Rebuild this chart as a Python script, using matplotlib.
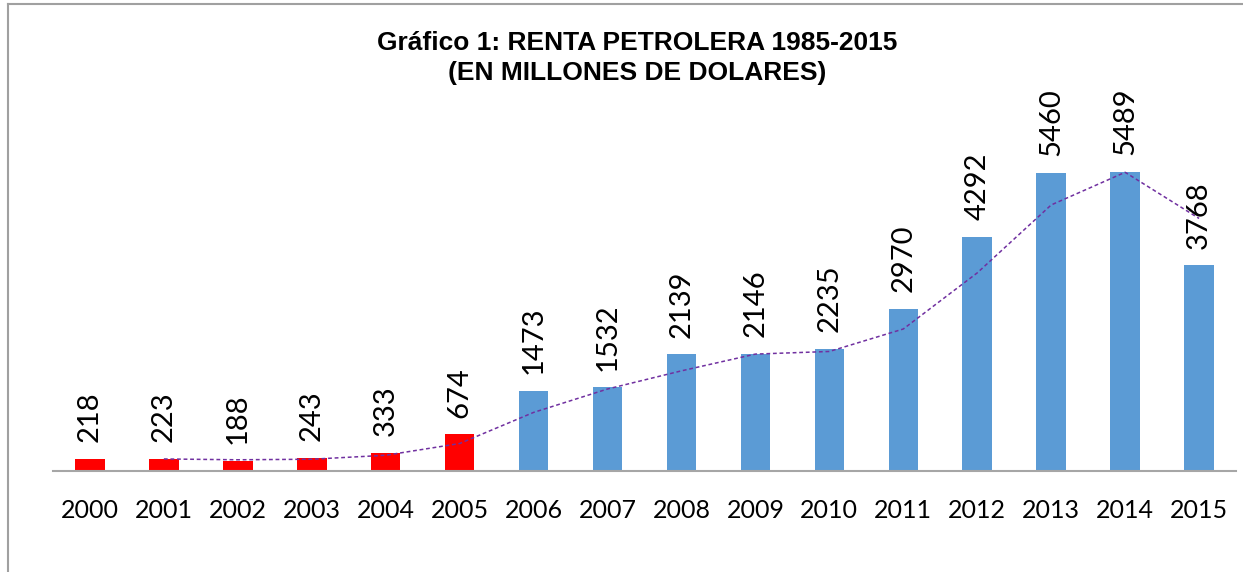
import matplotlib.pyplot as plt
from matplotlib.lines import Line2D

# Data
years = ["2000", "2001", "2002", "2003", "2004", "2005", "2006", "2007",
         "2008", "2009", "2010", "2011", "2012", "2013", "2014", "2015"]
renta = [218, 223, 188, 243, 333, 674, 1473, 1532,
         2139, 2146, 2235, 2970, 4292, 5460, 5489, 3768]
# 2-period moving average trend line (starts at 2001)
trend = [220.5, 205.5, 215.5, 288, 503.5, 1073.5, 1502.5, 1835.5,
         2142.5, 2190.5, 2602.5, 3631, 4876, 5474.5, 4628.5]
n_red = 6  # 2000-2005 drawn in red

RED = "#FF0000"
BLUE = "#5B9BD5"

fig = plt.figure(figsize=(12.43, 5.72), dpi=100)
ax = fig.add_axes([0.0426, 0.1766, 0.9518, 0.62])

x = list(range(len(years)))
colors = [RED if i < n_red else BLUE for i in x]
ax.bar(x, renta, width=0.4, color=colors, zorder=2)

# trend line
ax.plot(x[1:], trend, color="#7030A0", linestyle=(0, (2.5, 1.8)), linewidth=1.1, zorder=3)

# value labels
for xi, v in zip(x, renta):
    ax.annotate(str(v), (xi, v), xytext=(0, 12), textcoords="offset points",
                rotation=90, ha="center", va="bottom", fontsize=21,
                family="Lato", clip_on=False)

ax.set_xlim(-0.5, len(years) - 0.5)
ax.set_ylim(0, 6500)
ax.set_xticks(x)
ax.set_xticklabels(years, fontsize=18, family="Lato")
ax.tick_params(axis="x", length=0, pad=20)
ax.set_yticks([])
for side in ["top", "right", "left"]:
    ax.spines[side].set_visible(False)
ax.spines["bottom"].set_color("#A6A6A6")
ax.spines["bottom"].set_linewidth(1.5)

fig.text(0.513, 0.925, "Gráfico 1: RENTA PETROLERA 1985-2015",
         ha="center", va="center", fontsize=19, fontweight="bold",
         family="Liberation Sans")
fig.text(0.513, 0.873, "(EN MILLONES DE DOLARES)",
         ha="center", va="center", fontsize=19, fontweight="bold",
         family="Liberation Sans")

# chart frame (top and left edges visible)
fig.add_artist(Line2D([0.0064, 1.0], [0.993, 0.993], transform=fig.transFigure,
                      color="#A0A0A0", linewidth=1.5))
fig.add_artist(Line2D([0.0064, 0.0064], [0.0, 0.993], transform=fig.transFigure,
                      color="#A0A0A0", linewidth=1.5))

fig.savefig("out.png", dpi=100)
